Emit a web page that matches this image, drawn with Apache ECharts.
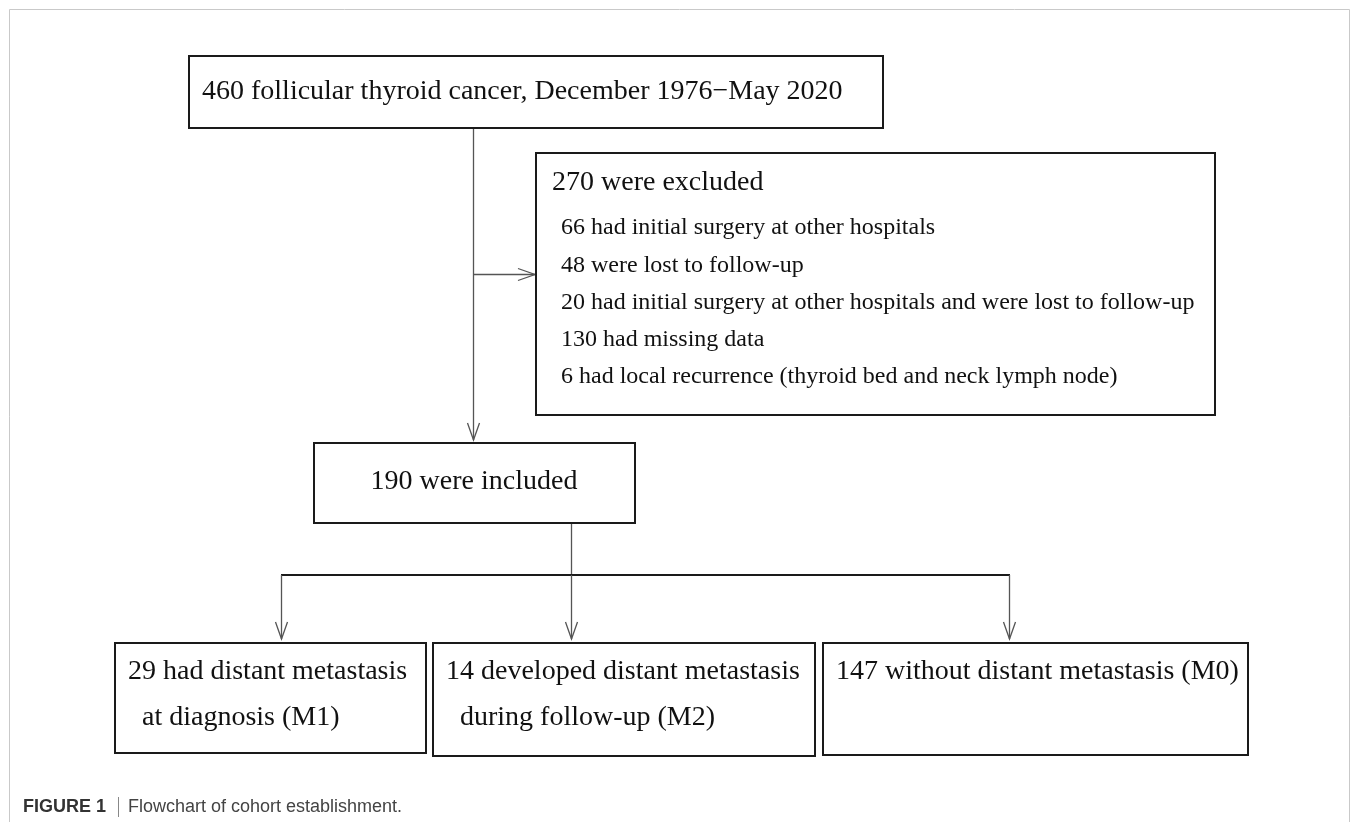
<!DOCTYPE html>
<html>
<head>
<meta charset="utf-8">
<script src="https://cdn.jsdelivr.net/npm/echarts@6/dist/echarts.min.js"></script>
<style>
  html, body { margin: 0; padding: 0; background: #fff; }
  #chart { width: 1355px; height: 822px; }
</style>
</head>
<body>
<div id="chart"></div>
<script>
// flowchart data
const totalCount = 460;
const totalLabel = 'follicular thyroid cancer, December 1976\u2212May 2020';
const excludedCount = 270;
const excludedLabel = 'were excluded';
const reasonCounts = [66, 48, 20, 130, 6];
const reasonLabels = [
  'had initial surgery at other hospitals',
  'were lost to follow-up',
  'had initial surgery at other hospitals and were lost to follow-up',
  'had missing data',
  'had local recurrence (thyroid bed and neck lymph node)'
];
const includedCount = 190;
const includedLabel = 'were included';
const groupCounts = [29, 14, 147];
const groupLines = [
  ['had distant metastasis', 'at diagnosis (M1)'],
  ['developed distant metastasis', 'during follow-up (M2)'],
  ['without distant metastasis (M0)']
];
const captionTitle = 'FIGURE 1';
const captionText = 'Flowchart of cohort establishment.';

let myChart = echarts.init(document.getElementById('chart'), null, { renderer: 'canvas' });

const SERIF = '"Liberation Serif", "Times New Roman", serif';
const BOX_STROKE = '#1a1a1a';
const LINK = '#555';

function box(x, y, w, h) {
  return {
    type: 'rect',
    shape: { x: x, y: y, width: w, height: h },
    style: { fill: '#fff', stroke: BOX_STROKE, lineWidth: 2 },
    z: 2
  };
}
function txt(s, x, y, size, align) {
  return {
    type: 'text',
    style: {
      text: s, x: x, y: y,
      font: size + 'px ' + SERIF,
      fill: '#111',
      textAlign: align || 'left',
      textVerticalAlign: 'middle'
    },
    z: 3
  };
}
function line(x1, y1, x2, y2, color, lw) {
  return {
    type: 'line',
    shape: { x1: x1, y1: y1, x2: x2, y2: y2 },
    style: { stroke: color || LINK, lineWidth: lw || 1.3 },
    z: 1
  };
}
// open arrow head, tip at (x, y)
function head(x, y, dir) {
  let pts;
  if (dir === 'right') {
    pts = [[x - 17, y - 6], [x, y], [x - 17, y + 6]];
  } else {
    pts = [[x - 6, y - 17], [x, y], [x + 6, y - 17]];
  }
  return {
    type: 'polyline',
    shape: { points: pts },
    style: { stroke: LINK, lineWidth: 1.3, fill: null },
    z: 1
  };
}

let els = [];

// outer frame
els.push({
  type: 'rect',
  shape: { x: 9.5, y: 9.5, width: 1340, height: 840 },
  style: { fill: null, stroke: '#c9c9c9', lineWidth: 1 },
  z: 0
});

// top box
els.push(box(189, 56, 694, 72));
els.push(txt(totalCount + ' ' + totalLabel, 202, 92, 28));

// trunk down to included box and branch to excluded box
els.push(line(473.5, 128, 473.5, 440));
els.push(head(473.5, 440, 'down'));
els.push(line(473.5, 274.5, 535, 274.5));
els.push(head(535, 274.5, 'right'));

// excluded box
els.push(box(536, 153, 679, 262));
els.push(txt(excludedCount + ' ' + excludedLabel, 552, 183, 28));
reasonLabels.forEach(function (r, i) {
  els.push(txt(reasonCounts[i] + ' ' + r, 561, 228 + i * 37.3, 24));
});

// included box
els.push(box(314, 443, 321, 80));
els.push(txt(includedCount + ' ' + includedLabel, 474, 482, 28, 'center'));

// split to groups
const groupArrowX = [281.5, 571.5, 1009.5];
els.push(line(571.5, 523, 571.5, 575));
els.push(line(281, 575, 1010, 575, '#1a1a1a', 2));
groupArrowX.forEach(function (gx) {
  els.push(line(gx, 575, gx, 639));
  els.push(head(gx, 639, 'down'));
});

// group boxes
const groupBoxes = [[115, 643, 311, 110], [433, 643, 382, 113], [823, 643, 425, 112]];
groupCounts.forEach(function (c, i) {
  const b = groupBoxes[i];
  els.push(box(b[0], b[1], b[2], b[3]));
  els.push(txt(c + ' ' + groupLines[i][0], b[0] + 13, 672, 28));
  if (groupLines[i][1]) {
    els.push(txt(groupLines[i][1], b[0] + 27, 718, 28));
  }
});

// caption
els.push({
  type: 'text',
  style: { text: captionTitle, x: 23, y: 807, font: 'bold 18px "Liberation Sans", Arial, sans-serif', fill: '#333', textVerticalAlign: 'middle' }
});
els.push({
  type: 'line',
  shape: { x1: 118.5, y1: 797, x2: 118.5, y2: 817 },
  style: { stroke: '#888', lineWidth: 1 }
});
els.push({
  type: 'text',
  style: { text: captionText, x: 128, y: 807, font: '18px "Liberation Sans", Arial, sans-serif', fill: '#444', textVerticalAlign: 'middle' }
});

myChart.setOption({
  backgroundColor: '#fff',
  animation: false,
  graphic: { elements: els }
});
</script>
</body>
</html>
